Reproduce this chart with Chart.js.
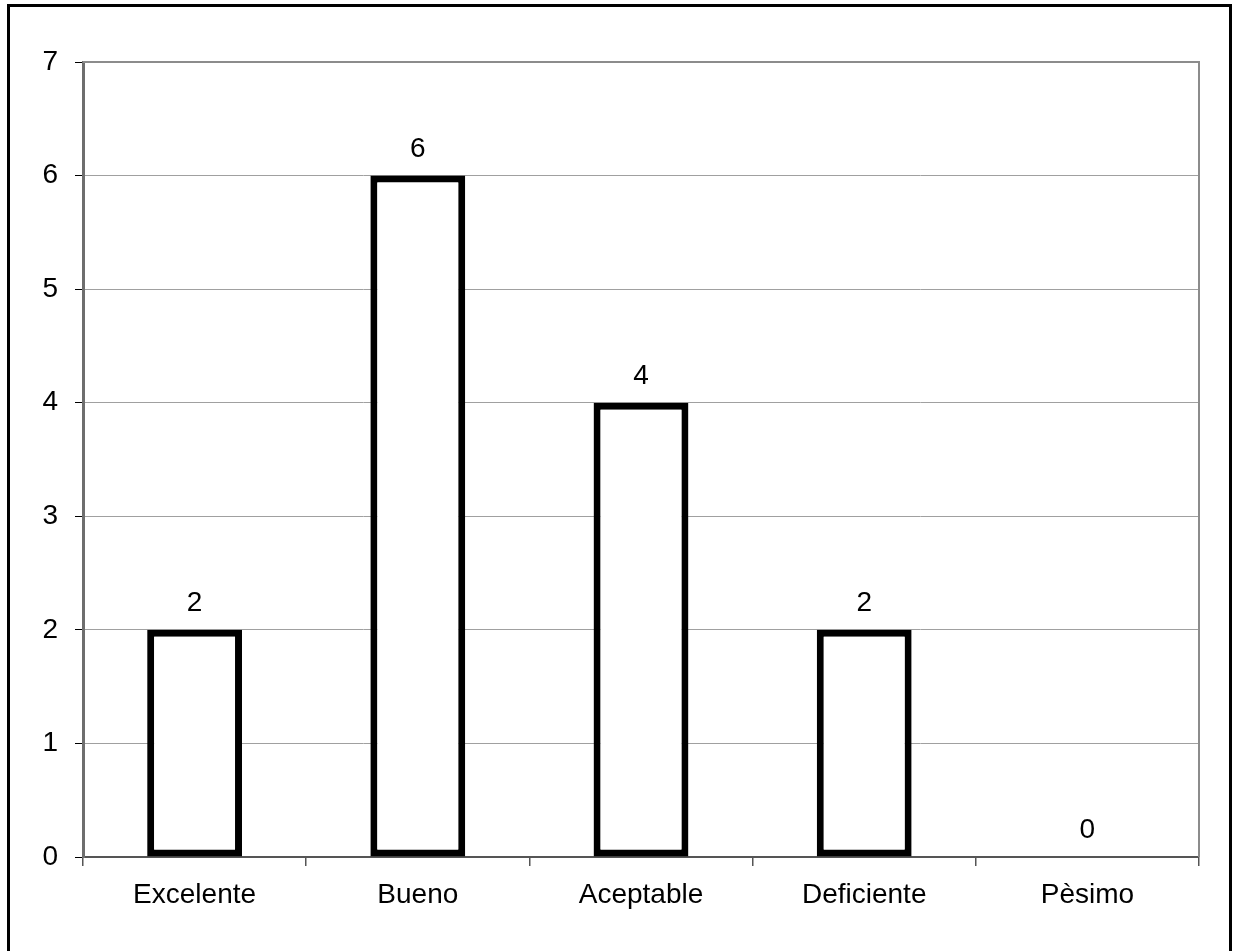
<!DOCTYPE html>
<html>
<head>
<meta charset="utf-8">
<script src="https://cdn.jsdelivr.net/npm/chart.js@4"></script>
<style>
  html, body { margin: 0; padding: 0; background: #fff; }
  #wrap { width: 1235px; height: 951px; position: relative; }
</style>
</head>
<body>
<div id="wrap"><canvas id="chart" width="1235" height="951"></canvas></div>
<script>
const categories = ['Excelente', 'Bueno', 'Aceptable', 'Deficiente', 'Pèsimo'];
const counts = [2, 6, 4, 2, 0];
const yTicks = [0, 1, 2, 3, 4, 5, 6, 7];

const FONT = 'Liberation Sans, Arial, sans-serif';

// outer frame and the plot-area border (top/right)
const framePlugin = {
  id: 'frame',
  beforeDraw(chart) {
    const c = chart.ctx;
    c.save();
    c.fillStyle = '#fff';
    c.fillRect(0, 0, chart.width, chart.height);
    c.restore();
  },
  afterDraw(chart) {
    const c = chart.ctx;
    const a = chart.chartArea;
    c.save();
    c.strokeStyle = '#000';
    c.lineWidth = 3;
    c.strokeRect(8.5, 5.5, 1222, 980);
    c.strokeStyle = '#8c8c8c';
    c.lineWidth = 2;
    c.beginPath();
    c.moveTo(a.left, a.top);
    c.lineTo(a.right, a.top);
    c.lineTo(a.right, a.bottom);
    c.stroke();
    c.restore();
  }
};

// value labels above bars
const labelPlugin = {
  id: 'valueLabels',
  afterDatasetsDraw(chart) {
    const c = chart.ctx;
    const meta = chart.getDatasetMeta(0);
    c.save();
    c.fillStyle = '#000';
    c.font = '28px ' + FONT;
    c.textAlign = 'center';
    c.textBaseline = 'alphabetic';
    meta.data.forEach((bar, i) => {
      c.fillText(String(counts[i]), bar.x, bar.y - 19);
    });
    c.restore();
  }
};

new Chart(document.getElementById('chart'), {
  type: 'bar',
  data: {
    labels: categories,
    datasets: [{
      data: counts,
      backgroundColor: '#fff',
      borderColor: '#000',
      borderWidth: 7,
      borderSkipped: false,
      barPercentage: 0.425,
      categoryPercentage: 1
    }]
  },
  options: {
    responsive: false,
    animation: false,
    layout: { padding: { left: 0, top: 62, right: 36, bottom: 0 } },
    plugins: { legend: { display: false }, tooltip: { enabled: false } },
    scales: {
      x: {
        afterFit: s => { s.height = 94; },
        border: { color: '#555', width: 2 },
        grid: { display: true, drawOnChartArea: false, offset: true, tickLength: 9, tickColor: '#555', lineWidth: 1.5 },
        ticks: { color: '#000', font: { family: FONT, size: 28 }, padding: 12 }
      },
      y: {
        min: 0,
        max: 7,
        afterFit: s => { s.width = 83; },
        afterBuildTicks: s => { s.ticks = yTicks.map(v => ({ value: v })); },
        border: { color: '#6e6e6e', width: 3 },
        grid: { color: '#a0a0a0', lineWidth: 1, tickLength: 8, tickColor: '#000' },
        ticks: { color: '#000', font: { family: FONT, size: 28 }, padding: 17 }
      }
    }
  },
  plugins: [framePlugin, labelPlugin]
});
</script>
</body>
</html>
